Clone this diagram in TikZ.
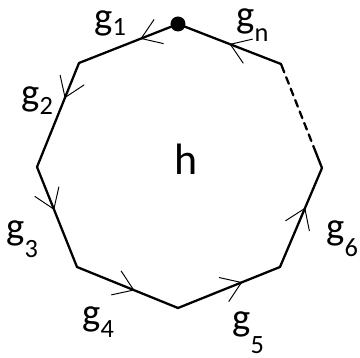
\documentclass[tikz,border=0pt]{standalone}
\usepackage{fontspec}
\setmainfont{Carlito}
\usetikzlibrary{arrows.meta,calc,decorations.markings}

\newcommand{\glab}[2]{g\raisebox{-#1}{\fontsize{15pt}{15pt}\selectfont #2}}

\begin{document}
\begin{tikzpicture}[
  x=0.02cm, y=-0.02cm,
  barb/.tip={Straight Barb[length=0.38cm,width=0.52cm,line width=0.55pt]},
  edge/.style={line width=1.3pt,line cap=round},
  mid/.style={postaction={decorate,decoration={markings,
              mark=at position #1 with {\arrow{barb}}}}},
  lab/.style={anchor=base west,inner sep=0pt,
              font=\fontsize{22pt}{22pt}\selectfont}
]
\useasboundingbox (0,0) rectangle (360,358);

%% ── Vertices of the polygon (pixel coordinates) ──
\coordinate (vtop) at (178,24);
\coordinate (vtl)  at (79,63);
\coordinate (vl)   at (37,167);
\coordinate (vbl)  at (77,267);
\coordinate (vb)   at (178,308);
\coordinate (vbr)  at (280,267);
\coordinate (vr)   at (322,168);
\coordinate (vtr)  at (281,64);

%% ── Edges, each with its arrow ──
\draw[edge,mid=0.38] (vtop) -- (vtl);
\draw[edge,mid=0.34] (vtl)  -- (vl);
\draw[edge,mid=0.43] (vl)   -- (vbl);
\draw[edge,mid=0.57] (vbl)  -- (vb);
\draw[edge,mid=0.63] (vb)   -- (vbr);
\draw[edge,mid=0.60] (vbr)  -- (vr);
\draw[edge,mid=0.50] (vtr)  -- (vtop);

%% ── Dashed edge with short solid ends ──
\coordinate (dA) at ($(vr)!0.15!(vtr)$);
\coordinate (dB) at ($(vr)!0.92!(vtr)$);
\draw[edge] (vr) -- (dA);
\draw[edge,dash pattern=on 4pt off 3pt] (dA) -- (dB);
\draw[edge] (dB) -- (vtr);

\fill (vtop) circle (7.5);   % base point

%% ── Labels ──
\node[lab] (g1) at (94,30)  {\glab{0.12cm}{1}};
\node[lab] (g2) at (21,106) {\glab{0.18cm}{2}};
\node[lab] (g3) at (6,240)  {\glab{0.36cm}{3}};
\node[lab] (g4) at (82,326) {\glab{0.24cm}{4}};
\node[lab] (g5) at (232,331){\glab{0.46cm}{5}};
\node[lab] (g6) at (326,240){\glab{0.34cm}{6}};
\node[lab] (gn) at (236,28) {\glab{0.28cm}{n}};
\node[lab,font=\fontsize{25pt}{25pt}\selectfont] (h) at (174,175) {h};

\end{tikzpicture}
\end{document}
